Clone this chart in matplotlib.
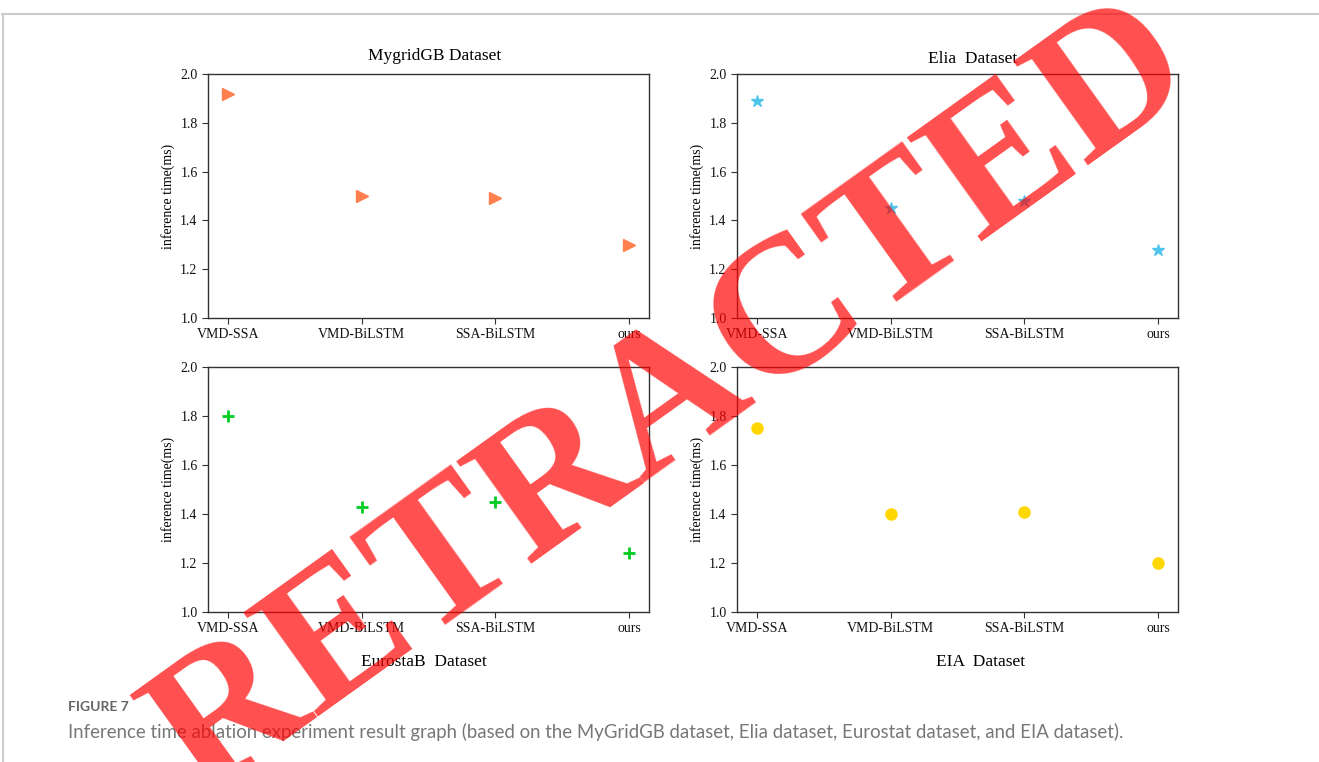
import matplotlib
matplotlib.use('Agg')
import matplotlib.pyplot as plt
from matplotlib.lines import Line2D

plt.rcParams.update({
    'font.family': 'serif',
    'font.serif': ['Liberation Serif', 'DejaVu Serif'],
    'font.size': 10,
    'axes.edgecolor': '#333333',
    'axes.linewidth': 1.0,
    'xtick.color': '#333333',
    'ytick.color': '#333333',
    'xtick.labelcolor': '#111111',
    'ytick.labelcolor': '#111111',
})

# data
models = ['VMD-SSA', 'VMD-BiLSTM', 'SSA-BiLSTM', 'ours']
mygrid = [1.92, 1.50, 1.49, 1.30]
elia = [1.89, 1.45, 1.48, 1.28]
eurostat = [1.80, 1.43, 1.45, 1.24]
eia = [1.75, 1.40, 1.41, 1.20]
yticks = [1.0, 1.2, 1.4, 1.6, 1.8, 2.0]

W, H = 1319, 762
fig = plt.figure(figsize=(W / 100, H / 100), dpi=100)


def px_axes(left, top, right, bottom):
    return fig.add_axes([left / W, 1 - bottom / H, (right - left) / W, (bottom - top) / H])


panels = [
    (px_axes(208, 74, 649, 318), mygrid, '>', '#FF7F4F', 8, 'MygridGB Dataset', 'top', 0.515),
    (px_axes(737, 74, 1178, 318), elia, '*', '#4EC6EC', 9, 'Elia  Dataset', 'top', 0.535),
    (px_axes(208, 367, 649, 612), eurostat, '+', '#00CC22', 8, 'EurostaB  Dataset', 'bottom', 0.49),
    (px_axes(737, 367, 1178, 612), eia, 'o', '#FFD700', 8, 'EIA  Dataset', 'bottom', 0.552),
]

for ax, vals, mk, col, ms, name, where, tx in panels:
    ax.plot(models, vals, linestyle='none', marker=mk, color=col, markersize=ms,
            markeredgewidth=2 if mk == '+' else 1)
    ax.set_ylim(1.0, 2.0)
    ax.set_yticks(yticks)
    ax.set_yticklabels([f'{v:.1f}' for v in yticks])
    ax.set_ylabel('inference time(ms)', fontsize=10)
    ax.tick_params(labelsize=10, length=4)
    if where == 'top':
        ax.text(tx, 1.04 if 'Elia' not in name else 1.03, name, transform=ax.transAxes,
                ha='center', va='bottom', fontsize=12.5)
    else:
        ax.text(tx, -0.17, name, transform=ax.transAxes, ha='center', va='top', fontsize=12.5)

# page frame
fig.add_artist(Line2D([2 / W, 1], [1 - 14 / H, 1 - 14 / H], color='#cccccc', lw=1.5))
fig.add_artist(Line2D([3 / W, 3 / W], [0, 1 - 14 / H], color='#cccccc', lw=1.5))

# caption
fig.text(68 / W, 1 - 707 / H, 'FIGURE 7', fontsize=10, color='#666666',
         family=['Lato', 'DejaVu Sans'], fontweight='bold', va='center', ha='left')
fig.text(68 / W, 1 - 732 / H,
         'Inference time ablation experiment result graph (based on the MyGridGB dataset, '
         'Elia dataset, Eurostat dataset, and EIA dataset).',
         fontsize=13.4, color='#777777', family=['Lato', 'DejaVu Sans'], va='center', ha='left')

# retraction stamp
fig.text(700 / W, 1 - 440 / H, 'RETRACTED', fontsize=141, fontweight='bold',
         family=['Liberation Serif'], color='#FF0000', alpha=0.69,
         rotation=35.6, rotation_mode='anchor', ha='center', va='baseline', zorder=10)

fig.savefig('out.png', dpi=100, facecolor='white')
